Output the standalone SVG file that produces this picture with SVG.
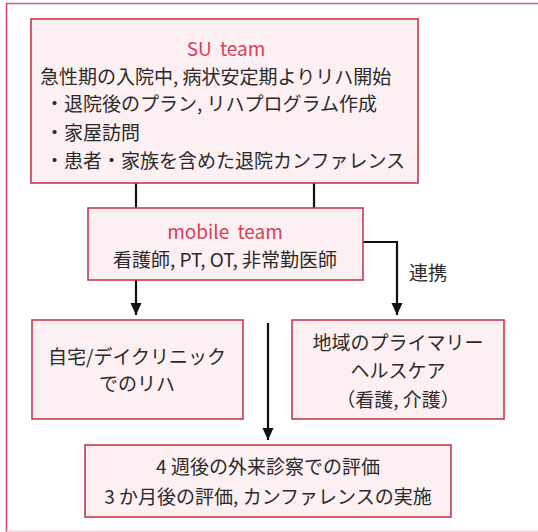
<svg xmlns="http://www.w3.org/2000/svg" width="538" height="532" viewBox="0 0 538 532">
<defs>
<style>
.box{fill:#fcf0f2;stroke:#c8384e;stroke-width:1.6}
.t{font-family:"Noto Sans CJK JP","Noto Sans",sans-serif;font-size:19px;fill:#2a2a2a;text-anchor:middle}
.r{fill:#d8405a;word-spacing:4px}
.s{text-anchor:start}
.ln{stroke:#111;stroke-width:2.2;fill:none}
</style>
<marker id="ah" markerWidth="12" markerHeight="13" viewBox="0 0 13 12" refX="13" refY="6" orient="auto" markerUnits="userSpaceOnUse">
<path d="M0,0 L13,6 L0,12 z" fill="#111"/>
</marker>
</defs>
<rect x="0" y="0" width="538" height="532" fill="#ffffff"/>
<g id="frame">
<line x1="6" y1="3.5" x2="538" y2="3.5" stroke="#c9607a" stroke-width="1.5"/>
<line x1="6.5" y1="3" x2="6.5" y2="532" stroke="#d04060" stroke-width="1.5"/>
<line x1="6" y1="531" x2="538" y2="531" stroke="#f4c0cc" stroke-width="1.2"/>
</g>
<g id="connectors">
<line class="ln" x1="136" y1="183" x2="136" y2="208"/>
<line class="ln" x1="314" y1="183" x2="314" y2="208"/>
<line class="ln" x1="136" y1="280" x2="136" y2="315" marker-end="url(#ah)"/>
<polyline class="ln" points="363,242 397,242 397,315" marker-end="url(#ah)"/>
<line class="ln" x1="268" y1="323" x2="268" y2="440" marker-end="url(#ah)"/>
<text class="t" x="428" y="280">連携</text>
</g>
<g id="su">
<rect class="box" x="31" y="19" width="387" height="164"/>
<text class="t r" x="226" y="56">SU team</text>
<text class="t s" x="40" y="84">急性期の入院中, 病状安定期よりリハ開始</text>
<text class="t s" x="45" y="111">・退院後のプラン, リハプログラム作成</text>
<text class="t s" x="45" y="140">・家屋訪問</text>
<text class="t s" x="45" y="168">・患者・家族を含めた退院カンファレンス</text>
</g>
<g id="mobile">
<rect class="box" x="88" y="208" width="275" height="72"/>
<text class="t r" x="225" y="239">mobile team</text>
<text class="t" x="225" y="267">看護師, PT, OT, 非常勤医師</text>
</g>
<g id="home">
<rect class="box" x="32" y="320" width="211" height="99"/>
<text class="t" x="137" y="364">自宅/デイクリニック</text>
<text class="t" x="137" y="391">でのリハ</text>
</g>
<g id="primary">
<rect class="box" x="292" y="320" width="212" height="99"/>
<text class="t" x="398" y="350">地域のプライマリー</text>
<text class="t" x="398" y="378">ヘルスケア</text>
<text class="t" x="398" y="407">（看護, 介護）</text>
</g>
<g id="eval">
<rect class="box" x="85" y="445" width="366" height="72"/>
<text class="t" x="268" y="474">4 週後の外来診察での評価</text>
<text class="t" x="268" y="504">3 か月後の評価, カンファレンスの実施</text>
</g>
</svg>
